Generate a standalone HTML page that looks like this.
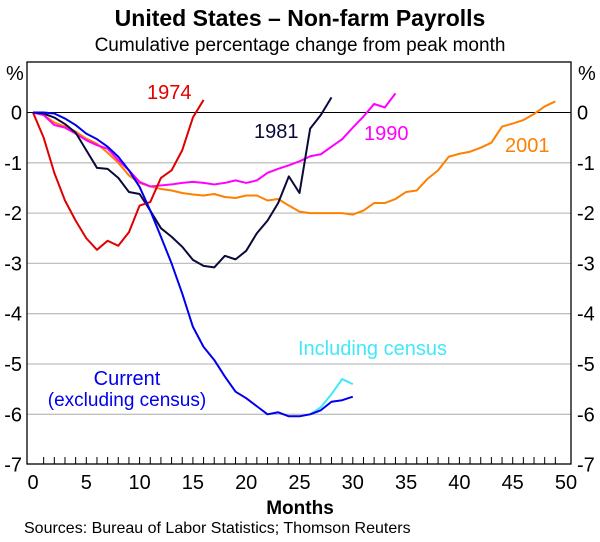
<!DOCTYPE html>
<html><head><meta charset="utf-8"><style>
body{margin:0;background:#fff;}
svg{display:block;font-family:"Liberation Sans",Arial,sans-serif;}
</style></head><body>
<svg id="chart" width="600" height="542" viewBox="0 0 600 542">
<text x="300" y="26" text-anchor="middle" font-size="23" font-weight="bold">United States – Non-farm Payrolls</text>
<text x="300" y="51" text-anchor="middle" font-size="19">Cumulative percentage change from peak month</text>
<g id="grid"></g><g id="axes"></g><g id="series"></g>
<text x="147" y="99" fill="#e00000" font-size="20">1974</text>
<text x="254" y="138" fill="#0a0a3a" font-size="20">1981</text>
<text x="364" y="140" fill="#ff00ff" font-size="20">1990</text>
<text x="505" y="152" fill="#ff8000" font-size="20">2001</text>
<text x="298" y="355" fill="#40e8f8" font-size="20">Including census</text>
<text x="127" y="385" text-anchor="middle" fill="#0000ee" font-size="20">Current</text>
<text x="127" y="406" text-anchor="middle" fill="#0000ee" font-size="19">(excluding census)</text>
<text x="300" y="514" text-anchor="middle" font-size="19" font-weight="bold">Months</text>
<text x="24" y="533" font-size="16">Sources: Bureau of Labor Statistics; Thomson Reuters</text>
</svg>
<script>
const xTicks=[0,5,10,15,20,25,30,35,40,45,50];
const yTicks=[0,-1,-2,-3,-4,-5,-6,-7];
const s1974=[0,-0.5,-1.2,-1.75,-2.15,-2.5,-2.73,-2.55,-2.65,-2.38,-1.85,-1.78,-1.3,-1.15,-0.75,-0.1,0.25];
const s1981=[0,-0.02,-0.1,-0.23,-0.4,-0.75,-1.1,-1.12,-1.3,-1.58,-1.62,-1.95,-2.3,-2.47,-2.67,-2.93,-3.05,-3.08,-2.85,-2.92,-2.75,-2.4,-2.15,-1.8,-1.27,-1.6,-0.32,-0.05,0.3];
const s1990=[0,-0.05,-0.25,-0.3,-0.42,-0.55,-0.65,-0.72,-0.95,-1.15,-1.38,-1.47,-1.45,-1.43,-1.4,-1.38,-1.4,-1.43,-1.4,-1.35,-1.4,-1.35,-1.2,-1.12,-1.05,-0.97,-0.87,-0.83,-0.68,-0.53,-0.3,-0.08,0.17,0.1,0.38];
const s2001=[0,-0.05,-0.2,-0.28,-0.38,-0.52,-0.62,-0.8,-1.0,-1.25,-1.4,-1.47,-1.52,-1.55,-1.6,-1.63,-1.65,-1.62,-1.68,-1.7,-1.65,-1.65,-1.75,-1.72,-1.85,-1.97,-2.0,-2.0,-2.0,-2.0,-2.03,-1.95,-1.8,-1.8,-1.72,-1.58,-1.55,-1.32,-1.15,-0.88,-0.82,-0.78,-0.7,-0.6,-0.28,-0.22,-0.15,-0.03,0.12,0.22];
const sCurrent=[0,0,-0.02,-0.12,-0.25,-0.42,-0.53,-0.68,-0.88,-1.15,-1.48,-1.95,-2.47,-3.0,-3.6,-4.26,-4.66,-4.92,-5.25,-5.55,-5.68,-5.84,-6.0,-5.96,-6.04,-6.04,-6.0,-5.92,-5.75,-5.72,-5.65];
const censusStart=26;
const sCensus=[-6.0,-5.86,-5.6,-5.3,-5.4];
const NS='http://www.w3.org/2000/svg';
const L=27,R=571,T=62,B=464;
const X=m=>33+m*10.66;
const Y=v=>112.5-v*50.3;
function mk(tag,attrs,parent){const e=document.createElementNS(NS,tag);for(const k in attrs)e.setAttribute(k,attrs[k]);parent.appendChild(e);return e;}
const grid=document.getElementById('grid'),axes=document.getElementById('axes'),ser=document.getElementById('series');
yTicks.forEach(v=>{
 if(v<0&&v>-7){const g=mk('line',{x1:L,x2:R,y1:Y(v),y2:Y(v),stroke:'#c0c0c0','stroke-width':1.3},grid);
 
 }
 const a=mk('text',{x:22,y:Y(v)+7,'text-anchor':'end','font-size':20},axes);a.textContent=v;
 
 
 const b=mk('text',{x:577,y:Y(v)+7,'font-size':20},axes);b.textContent=v;
 
 
});
const zl=mk('line',{x1:L,x2:R,y1:Y(0),y2:Y(0),stroke:'#000','stroke-width':1},grid);


const fr=mk('rect',{x:L,y:T,width:R-L,height:B-T,fill:'none',stroke:'#000','stroke-width':1.3},axes);


for(let m=1;m<50;m++){const t=mk('line',{x1:X(m),x2:X(m),y1:B,y2:B-7,stroke:'#000','stroke-width':1},axes);
 
 }
xTicks.forEach(m=>{const t=mk('text',{x:X(m),y:B+25,'text-anchor':'middle','font-size':20},axes);t.textContent=m;
 
 });
[['%',6],['%',578]].forEach(([s,x])=>{const t=mk('text',{x:x,y:80,'font-size':20},axes);t.textContent=s;
 
 });
function line(arr,start,color,name){
 const p=mk('polyline',{points:arr.map((v,i)=>X(i+start)+','+Y(v)).join(' '),fill:'none',stroke:color,'stroke-width':2,'stroke-linejoin':'round'},ser);
 
 
}
line(s2001,0,'#ff8000','series-2001');
line(s1990,0,'#ff00ff','series-1990');
line(s1981,0,'#0a0a3a','series-1981');
line(s1974,0,'#e00000','series-1974');
line(sCensus,censusStart,'#40e8f8','series-including-census');
line(sCurrent,0,'#0000ee','series-current');
</script>
</body></html>
